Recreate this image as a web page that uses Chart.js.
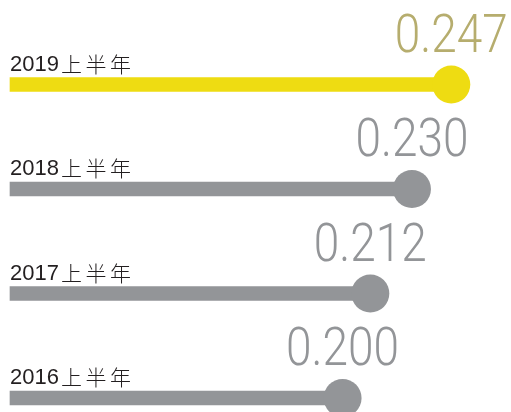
<!DOCTYPE html>
<html>
<head>
<meta charset="utf-8">
<script src="https://cdn.jsdelivr.net/npm/chart.js@4.4.0/dist/chart.umd.min.js"></script>
<style>
  html, body { margin: 0; padding: 0; background: #ffffff; }
  #wrap { width: 511px; height: 412px; position: relative; }
</style>
</head>
<body>
<div id="wrap"><canvas id="chart"></canvas></div>
<script>
// values
const periods = ["2019", "2018", "2017", "2016"]
const periodSuffix = "上半年"
const values = [0.247, 0.230, 0.212, 0.200]
const valueLabels = ["0.247", "0.230", "0.212", "0.200"]

// colours: current half-year highlighted in yellow, earlier ones in grey
const barColors = ["#eedc12", "#939598", "#939598", "#939598"]
const valueColors = ["#b6ad6e", "#939598", "#939598", "#939598"]

const axisMin = 0.0562
const axisMax = 0.2685

// draws the period names above the bars and the big numbers above the dots
const labelPlugin = {
    id: "labels",
    afterDatasetsDraw(chart) {
        const ctx = chart.ctx
        const xScale = chart.scales.x
        const yScale = chart.scales.y
        ctx.save()
        periods.forEach((p, i) => {
            const y = yScale.getPixelForValue(i)
            const x = xScale.getPixelForValue(values[i])

            // category label: digits then the CJK characters with wider spacing
            ctx.fillStyle = "#231f20"
            ctx.textBaseline = "alphabetic"
            ctx.textAlign = "left"
            ctx.font = "22px 'Liberation Sans', Arial, sans-serif"
            const left = chart.chartArea.left
            ctx.fillText(p, left, y - 14)
            let cx = left + ctx.measureText(p).width + 2
            ctx.font = "300 21px 'Noto Sans CJK SC', sans-serif"
            for (const ch of periodSuffix) {
                ctx.fillText(ch, cx, y - 13)
                cx += 24.5
            }

            // value label, centred on the dot
            ctx.font = "300 53px Roboto, 'Liberation Sans', sans-serif"
            const w = ctx.measureText("0.200").width
            const sx = 113 / w
            ctx.save()
            ctx.translate(x, y - 33)
            ctx.scale(sx, 1)
            ctx.textAlign = "center"
            ctx.fillStyle = valueColors[i]
            ctx.fillText(valueLabels[i], 0, 0)
            ctx.restore()
        })
        ctx.restore()
    }
}

new Chart(document.getElementById("chart"), {
    data: {
        labels: periods,
        datasets: [
            {
                type: "line",
                indexAxis: "y",
                data: values,
                showLine: false,
                pointRadius: 19,
                pointHoverRadius: 19,
                pointBorderWidth: 0,
                pointBackgroundColor: barColors,
                clip: false,
                order: 0,
            },
            {
                type: "bar",
                data: values,
                base: axisMin,
                backgroundColor: barColors,
                barThickness: 14,
                borderWidth: 0,
                clip: false,
                order: 1,
            },
        ],
    },
    options: {
        indexAxis: "y",
        responsive: true,
        maintainAspectRatio: false,
        animation: false,
        layout: { autoPadding: false, padding: { left: 10, right: 10, top: 84.5, bottom: 14 } },
        plugins: {
            legend: { display: false },
            tooltip: { enabled: false },
        },
        scales: {
            x: { display: false, min: axisMin, max: axisMax },
            y: { display: false, offset: false },
        },
    },
    plugins: [labelPlugin],
})
</script>
</body>
</html>
